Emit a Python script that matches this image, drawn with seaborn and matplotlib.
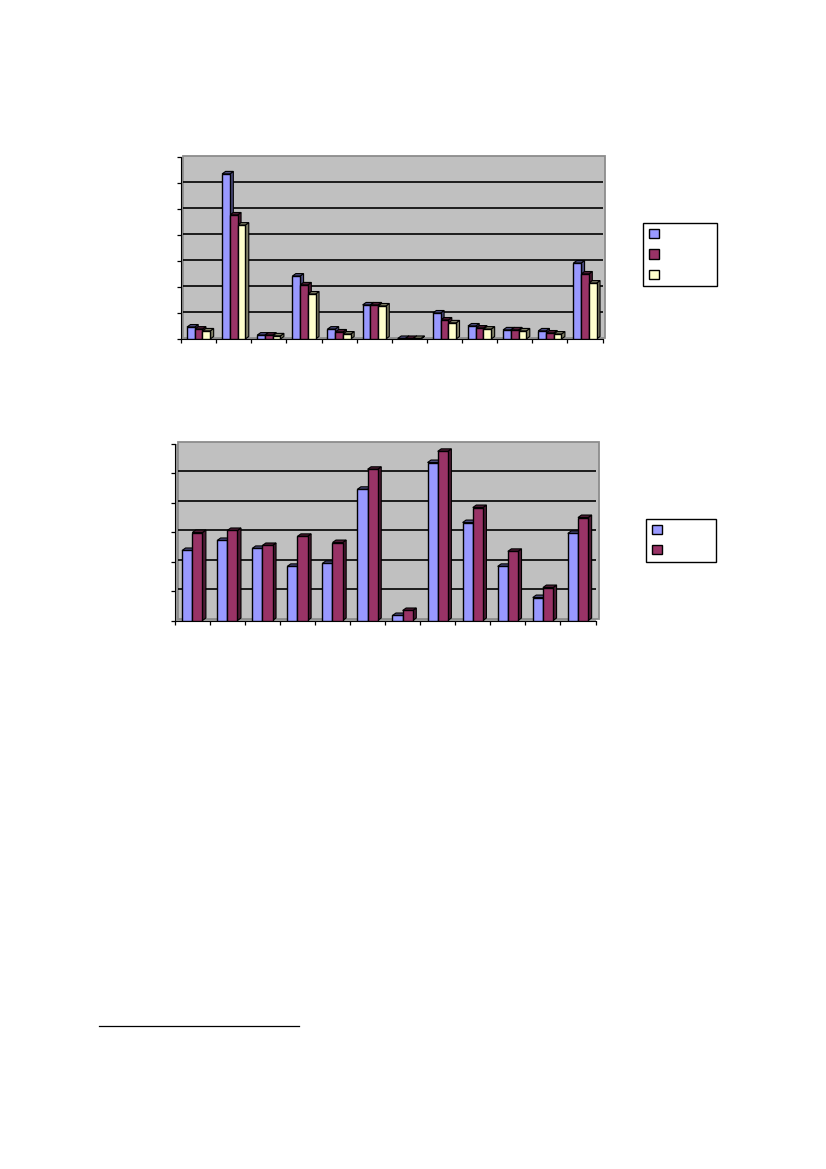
import numpy as np
import pandas as pd
import matplotlib
matplotlib.use('Agg')
import matplotlib.pyplot as plt
import seaborn as sns
from matplotlib.lines import Line2D
from matplotlib.patches import Patch, Polygon, Rectangle
from matplotlib.transforms import IdentityTransform, ScaledTranslation

W, H = 826, 1169

# no labels are readable in the picture, so groups are only numbered
groups = [str(i) for i in range(1, 13)]

# top chart, value units = one gridline step
top_a = [0.46, 6.35, 0.15, 2.42, 0.38, 1.31, 0.02, 1.00, 0.50, 0.35, 0.31, 2.92]
top_b = [0.38, 4.77, 0.15, 2.08, 0.27, 1.31, 0.02, 0.73, 0.42, 0.35, 0.23, 2.50]
top_c = [0.31, 4.38, 0.12, 1.73, 0.19, 1.27, 0.02, 0.62, 0.38, 0.31, 0.19, 2.15]

# bottom chart
bot_a = [2.38, 2.72, 2.45, 1.84, 1.94, 4.46, 0.17, 5.37, 3.33, 1.84, 0.78, 2.96]
bot_b = [2.99, 3.06, 2.55, 2.86, 2.65, 5.14, 0.34, 5.75, 3.84, 2.35, 1.12, 3.50]

colors = ['#9999FF', '#993366', '#FFFFCC']
side_colors = ['#4D4D80', '#4D1A33', '#808066']


def make_axes(fig, left, right, top, bottom):
    return fig.add_axes([left / W, 1 - bottom / H, (right - left) / W, (bottom - top) / H])


def draw_chart(ax, series, ymax, width, wall_dx, wall_dy):
    df = pd.DataFrame({'group': groups * len(series),
                       'series': [f's{i}' for i in range(len(series)) for _ in groups],
                       'value': np.concatenate(series)})
    sns.barplot(data=df, x='group', y='value', hue='series', ax=ax, palette=colors[:len(series)],
                width=width, saturation=1, edgecolor='black', linewidth=1.0, legend=False,
                errorbar=None, zorder=3)
    ax.set_xlim(-0.5, 11.5)
    ax.set_ylim(0, ymax)
    ax.set_xlabel('')
    ax.set_ylabel('')
    ax.set_facecolor('#A0A0A0')

    # back wall sits a little up and to the right of the axis, side wall and floor show under it
    offset = ScaledTranslation(wall_dx / 100, wall_dy / 100, fig.dpi_scale_trans)
    ax.add_patch(Rectangle((0, 0), 1, 1, transform=ax.transAxes + offset, facecolor='#C0C0C0',
                           edgecolor='#8C8C8C', lw=1.3, clip_on=False, zorder=0.5))
    ax.hlines(range(1, ymax), -0.5, 11.5, color='black', lw=1.2,
              transform=ax.transData + offset, zorder=1)

    ax.set_xticks(np.arange(-0.5, 12))
    ax.set_yticks(range(ymax + 1))
    ax.tick_params(labelbottom=False, labelleft=False, length=3, width=0.9, color='black')
    ax.spines['top'].set_visible(False)
    ax.spines['right'].set_visible(False)
    ax.spines['left'].set_color('black')
    ax.spines['bottom'].set_color('black')

    # fake 3d faces, built from the bars the library placed
    fig.canvas.draw()
    dx, dy = 3.5, 2.5
    for c, container in enumerate(ax.containers):
        for bar in container:
            (x0, y0), (x1, y1) = ax.transData.transform(
                [(bar.get_x(), 0), (bar.get_x() + bar.get_width(), bar.get_height())])
            side = [(x1, y0), (x1 + dx, y0 + dy), (x1 + dx, y1 + dy), (x1, y1)]
            roof = [(x0, y1), (x0 + dx, y1 + dy), (x1 + dx, y1 + dy), (x1, y1)]
            for pts in (side, roof):
                ax.add_patch(Polygon(pts, closed=True, facecolor=side_colors[c], edgecolor='black',
                                     lw=0.8, transform=IdentityTransform(), zorder=2.5, clip_on=False))


def draw_legend(fig, n, left, right, top, bottom, spacing):
    handles = [Patch(facecolor=colors[i], edgecolor='black', lw=1.0) for i in range(n)]
    box = (left / W, 1 - bottom / H, (right - left) / W, (bottom - top) / H)
    leg = fig.legend(handles, [' '] * n, loc='upper left', bbox_to_anchor=box, mode='expand',
                     fontsize=8, handlelength=0.9, handleheight=0.9, labelspacing=spacing,
                     borderpad=0.55, borderaxespad=0, handletextpad=0.5,
                     fancybox=False, framealpha=1, edgecolor='black')
    leg.get_frame().set_linewidth(1.0)


fig = plt.figure(figsize=(W / 100, H / 100), dpi=100, facecolor='white')

ax1 = make_axes(fig, 181, 602.5, 157, 339)
draw_chart(ax1, [top_a, top_b, top_c], 7, 0.66, 2, 1.5)
draw_legend(fig, 3, 642.5, 717.5, 223, 287, 0.88)

ax2 = make_axes(fig, 174.7, 595.5, 444, 620.5)
draw_chart(ax2, [bot_a, bot_b], 6, 0.58, 3.5, 2)
draw_legend(fig, 2, 645.5, 715.5, 519, 561, 0.85)

# footnote rule
fig.add_artist(Line2D([99 / W, 299 / W], [1 - 1026 / H, 1 - 1026 / H], color='black', lw=0.9))

fig.savefig('out.png', dpi=100)
